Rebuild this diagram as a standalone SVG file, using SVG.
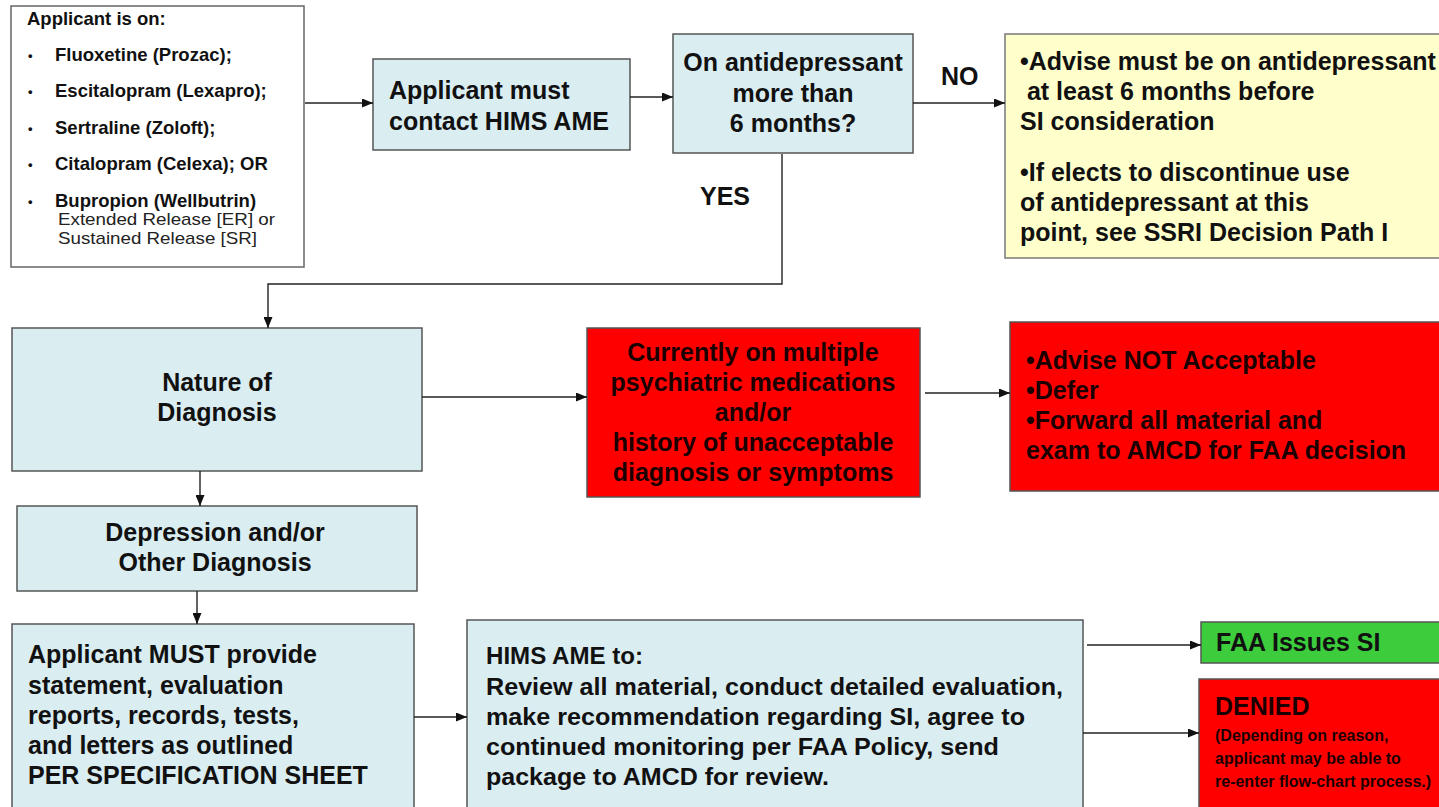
<svg xmlns="http://www.w3.org/2000/svg" width="1439" height="807" viewBox="0 0 1439 807">
<style>
text{font-family:"Liberation Sans",Arial,sans-serif;font-weight:bold;fill:#111;}
.t{font-size:25px;}
.c{text-anchor:middle;}
.s{font-size:18.5px;}
.b{font-size:13px;}
.r{font-weight:normal;font-size:17px;fill:#222;}
.n{font-family:"Liberation Sans Narrow","Liberation Sans",Arial,sans-serif;font-size:24px;}
.blue{fill:#daedf1;stroke:#555;stroke-width:1.5;}
.white{fill:#fff;stroke:#666;stroke-width:1.5;}
.yellow{fill:#ffffcc;stroke:#777;stroke-width:1.5;}
.red{fill:#ff0000;stroke:#555;stroke-width:1.5;}
.green{fill:#3ccc3c;stroke:#555;stroke-width:1.5;}
.dk{fill:#1a0000;}
.conn path{fill:none;stroke:#222;stroke-width:1.4;marker-end:url(#ah);}
</style>
<defs>
<marker id="ah" markerUnits="userSpaceOnUse" markerWidth="11" markerHeight="9" refX="11" refY="4.5" orient="auto"><path d="M0,0 L11,4.5 L0,9 z" fill="#111"/></marker>
</defs>
<rect width="1439" height="807" fill="#fff"/>
<g id="meds">
<rect class="white" x="11" y="6" width="293" height="261"/>
<text class="s" x="27" y="25">Applicant is on:</text>
<text class="b" x="28" y="60">•</text><text class="s" x="55" y="61">Fluoxetine (Prozac);</text>
<text class="b" x="28" y="96">•</text><text class="s" x="55" y="97">Escitalopram (Lexapro);</text>
<text class="b" x="28" y="133">•</text><text class="s" x="55" y="134">Sertraline (Zoloft);</text>
<text class="b" x="28" y="169">•</text><text class="s" x="55" y="170">Citalopram (Celexa); OR</text>
<text class="b" x="28" y="206">•</text><text class="s" x="55" y="207">Bupropion (Wellbutrin)</text>
<text class="r" x="58" y="225" textLength="217" lengthAdjust="spacingAndGlyphs">Extended Release [ER] or</text>
<text class="r" x="58" y="244" textLength="199" lengthAdjust="spacingAndGlyphs">Sustained Release [SR]</text>
</g>
<g id="contact">
<rect class="blue" x="373" y="59" width="257" height="91"/>
<text class="t" x="389" y="99">Applicant must</text>
<text class="t" x="389" y="130">contact HIMS AME</text>
</g>
<g id="question">
<rect class="blue" x="673" y="34" width="240" height="119"/>
<text class="t c" x="793" y="71">On antidepressant</text>
<text class="t c" x="793" y="102">more than</text>
<text class="t c" x="793" y="132">6 months?</text>
</g>
<g id="advise">
<rect class="yellow" x="1005" y="34" width="440" height="224"/>
<text class="t" x="1020" y="70">•Advise must be on antidepressant</text>
<text class="t" x="1020" y="100" xml:space="preserve"> at least 6 months before</text>
<text class="t" x="1020" y="130">SI consideration</text>
<text class="t" x="1020" y="181">•If elects to discontinue use</text>
<text class="t" x="1020" y="211">of antidepressant at this</text>
<text class="t" x="1020" y="241">point, see SSRI Decision Path I</text>
</g>
<g id="nature">
<rect class="blue" x="12" y="328" width="410" height="143"/>
<text class="t c" x="217" y="391">Nature of</text>
<text class="t c" x="217" y="421">Diagnosis</text>
</g>
<g id="multiple">
<rect class="red" x="587" y="328" width="333" height="169"/>
<text class="t c dk" x="753" y="361">Currently on multiple</text>
<text class="t c dk" x="753" y="391">psychiatric medications</text>
<text class="t c dk" x="753" y="421">and/or</text>
<text class="t c dk" x="753" y="451">history of unacceptable</text>
<text class="t c dk" x="753" y="481">diagnosis or symptoms</text>
</g>
<g id="notacceptable">
<rect class="red" x="1010" y="322" width="440" height="169"/>
<text class="t dk" x="1026" y="369">•Advise NOT Acceptable</text>
<text class="t dk" x="1026" y="399">•Defer</text>
<text class="t dk" x="1026" y="429">•Forward all material and</text>
<text class="t dk" x="1026" y="459">exam to AMCD for FAA decision</text>
</g>
<g id="depression">
<rect class="blue" x="17" y="506" width="400" height="85"/>
<text class="t c" x="215" y="541">Depression and/or</text>
<text class="t c" x="215" y="571">Other Diagnosis</text>
</g>
<g id="provide">
<rect class="blue" x="12" y="624" width="402" height="200"/>
<text class="t" x="28" y="663">Applicant MUST provide</text>
<text class="t" x="28" y="694">statement, evaluation</text>
<text class="t" x="28" y="724">reports, records, tests,</text>
<text class="t" x="28" y="754">and letters as outlined</text>
<text class="t" x="28" y="784">PER SPECIFICATION SHEET</text>
</g>
<g id="hims">
<rect class="blue" x="467" y="620" width="616" height="200"/>
<text class="n" x="486" y="664" textLength="157" lengthAdjust="spacingAndGlyphs">HIMS AME to:</text>
<text class="n" x="486" y="695" textLength="577" lengthAdjust="spacingAndGlyphs">Review all material, conduct detailed evaluation,</text>
<text class="n" x="486" y="725" textLength="539" lengthAdjust="spacingAndGlyphs">make recommendation regarding SI, agree to</text>
<text class="n" x="486" y="755" textLength="513" lengthAdjust="spacingAndGlyphs">continued monitoring per FAA Policy, send</text>
<text class="n" x="486" y="785" textLength="343" lengthAdjust="spacingAndGlyphs">package to AMCD for review.</text>
</g>
<g id="issues">
<rect class="green" x="1201" y="622" width="250" height="41"/>
<text class="t" x="1216" y="651">FAA Issues SI</text>
</g>
<g id="denied">
<rect class="red" x="1199" y="679" width="250" height="140"/>
<text class="t dk" x="1215" y="715">DENIED</text>
<text class="dk" x="1215" y="741" style="font-size:16px">(Depending on reason,</text>
<text class="dk" x="1215" y="764" style="font-size:16px">applicant may be able to</text>
<text class="dk" x="1215" y="787" style="font-size:16px">re-enter flow-chart process.)</text>
</g>
<g id="labels">
<text class="t" x="941" y="85">NO</text>
<text class="t" x="700" y="205">YES</text>
</g>
<g id="connectors" class="conn">
<path d="M305,103 H373"/>
<path d="M630,97 H673"/>
<path d="M913,103 H1005"/>
<path d="M782,154 V284 H268 V328"/>
<path d="M200,471 V506"/>
<path d="M197,591 V624"/>
<path d="M422,397 H587"/>
<path d="M925,393 H1010"/>
<path d="M414,717 H467"/>
<path d="M1087,645 H1201"/>
<path d="M1083,733 H1199"/>
</g>
</svg>
